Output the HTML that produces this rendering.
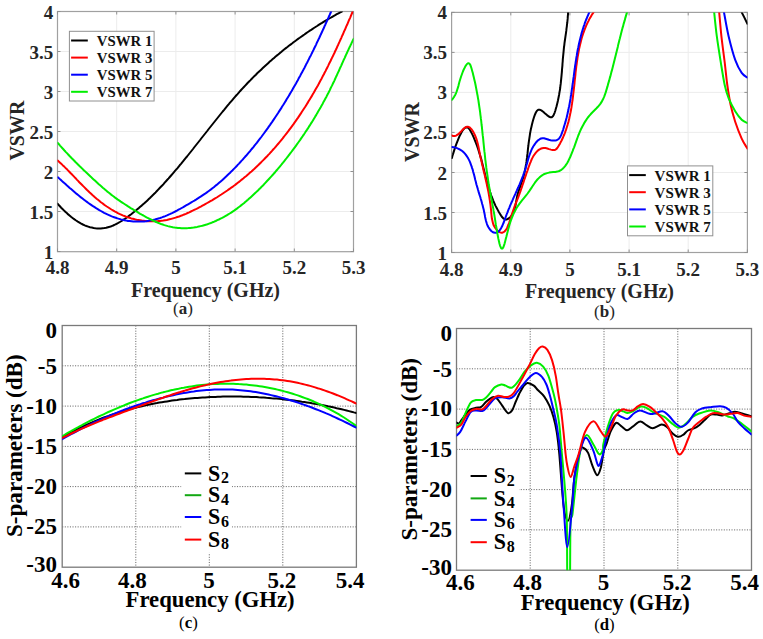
<!DOCTYPE html><html><head><meta charset="utf-8"><style>html,body{margin:0;padding:0;background:#fff;overflow:hidden;}svg{display:block;}</style></head><body>
<svg width="763" height="639" viewBox="0 0 763 639">
<rect width="763" height="639" fill="#fff"/>
<defs>
<clipPath id="ca"><rect x="57.5" y="11.5" width="296" height="240"/></clipPath>
<clipPath id="cb"><rect x="451.6" y="12.4" width="295.8" height="240.1"/></clipPath>
<clipPath id="cc"><rect x="62.2" y="325.5" width="294.2" height="241.9"/></clipPath>
<clipPath id="cd"><rect x="456.5" y="328.5" width="295" height="241.7"/></clipPath>
</defs>
<line x1="116.7" y1="11.5" x2="116.7" y2="251.5" stroke="#ececec" stroke-width="1"/>
<line x1="175.9" y1="11.5" x2="175.9" y2="251.5" stroke="#ececec" stroke-width="1"/>
<line x1="235.1" y1="11.5" x2="235.1" y2="251.5" stroke="#ececec" stroke-width="1"/>
<line x1="294.3" y1="11.5" x2="294.3" y2="251.5" stroke="#ececec" stroke-width="1"/>
<line x1="57.5" y1="211.5" x2="353.5" y2="211.5" stroke="#ececec" stroke-width="1"/>
<line x1="57.5" y1="171.5" x2="353.5" y2="171.5" stroke="#ececec" stroke-width="1"/>
<line x1="57.5" y1="131.5" x2="353.5" y2="131.5" stroke="#ececec" stroke-width="1"/>
<line x1="57.5" y1="91.5" x2="353.5" y2="91.5" stroke="#ececec" stroke-width="1"/>
<line x1="57.5" y1="51.5" x2="353.5" y2="51.5" stroke="#ececec" stroke-width="1"/>
<rect x="57.5" y="11.5" width="296.0" height="240.2" fill="none" stroke="#a0a0a0" stroke-width="1.20"/>
<line x1="57.5" y1="251.5" x2="57.5" y2="248.5" stroke="#909090" stroke-width="1"/>
<line x1="57.5" y1="11.5" x2="57.5" y2="14.5" stroke="#909090" stroke-width="1"/>
<line x1="116.7" y1="251.5" x2="116.7" y2="248.5" stroke="#909090" stroke-width="1"/>
<line x1="116.7" y1="11.5" x2="116.7" y2="14.5" stroke="#909090" stroke-width="1"/>
<line x1="175.9" y1="251.5" x2="175.9" y2="248.5" stroke="#909090" stroke-width="1"/>
<line x1="175.9" y1="11.5" x2="175.9" y2="14.5" stroke="#909090" stroke-width="1"/>
<line x1="235.1" y1="251.5" x2="235.1" y2="248.5" stroke="#909090" stroke-width="1"/>
<line x1="235.1" y1="11.5" x2="235.1" y2="14.5" stroke="#909090" stroke-width="1"/>
<line x1="294.3" y1="251.5" x2="294.3" y2="248.5" stroke="#909090" stroke-width="1"/>
<line x1="294.3" y1="11.5" x2="294.3" y2="14.5" stroke="#909090" stroke-width="1"/>
<line x1="353.5" y1="251.5" x2="353.5" y2="248.5" stroke="#909090" stroke-width="1"/>
<line x1="353.5" y1="11.5" x2="353.5" y2="14.5" stroke="#909090" stroke-width="1"/>
<line x1="57.5" y1="251.5" x2="60.5" y2="251.5" stroke="#909090" stroke-width="1"/>
<line x1="353.5" y1="251.5" x2="350.5" y2="251.5" stroke="#909090" stroke-width="1"/>
<line x1="57.5" y1="211.5" x2="60.5" y2="211.5" stroke="#909090" stroke-width="1"/>
<line x1="353.5" y1="211.5" x2="350.5" y2="211.5" stroke="#909090" stroke-width="1"/>
<line x1="57.5" y1="171.5" x2="60.5" y2="171.5" stroke="#909090" stroke-width="1"/>
<line x1="353.5" y1="171.5" x2="350.5" y2="171.5" stroke="#909090" stroke-width="1"/>
<line x1="57.5" y1="131.5" x2="60.5" y2="131.5" stroke="#909090" stroke-width="1"/>
<line x1="353.5" y1="131.5" x2="350.5" y2="131.5" stroke="#909090" stroke-width="1"/>
<line x1="57.5" y1="91.5" x2="60.5" y2="91.5" stroke="#909090" stroke-width="1"/>
<line x1="353.5" y1="91.5" x2="350.5" y2="91.5" stroke="#909090" stroke-width="1"/>
<line x1="57.5" y1="51.5" x2="60.5" y2="51.5" stroke="#909090" stroke-width="1"/>
<line x1="353.5" y1="51.5" x2="350.5" y2="51.5" stroke="#909090" stroke-width="1"/>
<line x1="57.5" y1="11.5" x2="60.5" y2="11.5" stroke="#909090" stroke-width="1"/>
<line x1="353.5" y1="11.5" x2="350.5" y2="11.5" stroke="#909090" stroke-width="1"/>
<g clip-path="url(#ca)">
<path d="M57.5,203.6 L58.7,205.0 L59.9,206.3 L61.2,207.7 L62.5,209.0 L63.9,210.4 L65.3,211.8 L66.8,213.1 L68.2,214.4 L69.8,215.7 L71.3,217.0 L72.9,218.2 L74.5,219.4 L76.1,220.5 L77.8,221.6 L79.5,222.6 L81.2,223.6 L82.9,224.5 L84.7,225.3 L86.4,226.0 L88.2,226.6 L90.0,227.2 L91.8,227.6 L93.6,228.0 L95.4,228.3 L97.2,228.5 L99.0,228.5 L100.8,228.5 L102.6,228.3 L104.4,228.1 L106.2,227.8 L108.0,227.3 L109.7,226.8 L111.5,226.2 L113.2,225.5 L114.9,224.7 L116.6,223.8 L118.3,222.9 L119.9,222.0 L121.6,221.0 L123.2,219.9 L124.9,218.8 L126.5,217.7 L128.1,216.5 L129.6,215.4 L131.2,214.2 L132.7,213.0 L134.3,211.8 L135.8,210.6 L137.3,209.3 L138.8,208.1 L140.2,206.8 L141.7,205.6 L143.1,204.3 L144.6,203.0 L146.0,201.7 L147.4,200.4 L148.8,199.1 L150.2,197.8 L151.5,196.4 L152.9,195.1 L154.2,193.7 L155.6,192.4 L156.9,191.0 L158.2,189.6 L159.5,188.2 L160.9,186.8 L162.2,185.5 L163.5,184.1 L164.7,182.6 L166.0,181.2 L167.3,179.8 L168.6,178.4 L169.8,177.0 L171.1,175.5 L172.3,174.1 L173.6,172.6 L174.8,171.2 L176.1,169.7 L177.3,168.3 L178.5,166.8 L179.7,165.3 L181.0,163.9 L182.2,162.4 L183.4,160.9 L184.6,159.4 L185.8,157.9 L187.0,156.5 L188.2,155.0 L189.4,153.5 L190.6,152.0 L191.8,150.5 L193.0,149.0 L194.1,147.5 L195.3,146.0 L196.5,144.5 L197.7,143.0 L198.9,141.5 L200.1,140.0 L201.2,138.5 L202.4,137.0 L203.6,135.5 L204.8,134.0 L206.0,132.5 L207.2,131.0 L208.3,129.5 L209.5,128.0 L210.7,126.5 L211.9,125.0 L213.1,123.5 L214.3,122.0 L215.5,120.5 L216.7,119.0 L217.9,117.5 L219.1,116.0 L220.3,114.5 L221.5,113.0 L222.7,111.5 L223.9,110.1 L225.1,108.6 L226.3,107.1 L227.5,105.7 L228.8,104.2 L230.0,102.7 L231.2,101.3 L232.5,99.8 L233.7,98.4 L235.0,96.9 L236.2,95.5 L237.5,94.1 L238.8,92.6 L240.0,91.2 L241.3,89.8 L242.6,88.4 L243.9,87.0 L245.2,85.6 L246.5,84.2 L247.8,82.8 L249.1,81.5 L250.5,80.1 L251.8,78.7 L253.1,77.4 L254.5,76.0 L255.9,74.7 L257.2,73.3 L258.6,72.0 L260.0,70.7 L261.4,69.4 L262.8,68.1 L264.2,66.8 L265.6,65.5 L267.0,64.2 L268.4,62.9 L269.8,61.6 L271.2,60.4 L272.7,59.1 L274.1,57.9 L275.6,56.6 L277.0,55.4 L278.5,54.2 L280.0,52.9 L281.5,51.7 L282.9,50.5 L284.4,49.3 L285.9,48.1 L287.4,47.0 L288.9,45.8 L290.5,44.6 L292.0,43.5 L293.5,42.3 L295.0,41.2 L296.6,40.0 L298.1,38.9 L299.7,37.8 L301.2,36.7 L302.8,35.6 L304.4,34.5 L305.9,33.4 L307.5,32.3 L309.1,31.2 L310.7,30.2 L312.3,29.1 L313.9,28.0 L315.5,27.0 L317.1,26.0 L318.7,24.9 L320.3,23.9 L322.0,22.9 L323.6,21.9 L325.2,20.9 L326.9,20.0 L328.5,19.0 L330.2,18.0 L331.8,17.1 L333.5,16.1 L335.2,15.2 L336.8,14.2 L338.5,13.3 L340.2,12.4 L341.9,11.5" fill="none" stroke="#000000" stroke-width="2.00" stroke-linejoin="round" stroke-linecap="round"/>
<path d="M57.7,160.5 L59.0,161.7 L60.3,162.9 L61.6,164.1 L62.9,165.4 L64.2,166.6 L65.5,167.9 L66.8,169.1 L68.0,170.4 L69.3,171.7 L70.5,173.0 L71.8,174.3 L73.1,175.6 L74.3,176.9 L75.6,178.2 L76.8,179.6 L78.1,180.9 L79.3,182.2 L80.6,183.5 L81.9,184.8 L83.2,186.1 L84.5,187.4 L85.8,188.7 L87.1,190.0 L88.4,191.2 L89.7,192.5 L91.1,193.8 L92.4,195.0 L93.8,196.2 L95.2,197.5 L96.6,198.7 L98.0,199.8 L99.5,201.0 L100.9,202.2 L102.4,203.3 L103.8,204.4 L105.3,205.5 L106.8,206.5 L108.4,207.5 L109.9,208.5 L111.4,209.5 L113.0,210.4 L114.6,211.4 L116.2,212.2 L117.8,213.1 L119.4,213.9 L121.1,214.6 L122.7,215.4 L124.4,216.0 L126.1,216.7 L127.8,217.3 L129.5,217.8 L131.2,218.4 L133.0,218.8 L134.7,219.3 L136.5,219.7 L138.2,220.0 L140.0,220.3 L141.8,220.6 L143.6,220.8 L145.4,221.0 L147.2,221.2 L148.9,221.3 L150.7,221.3 L152.5,221.3 L154.3,221.3 L156.1,221.2 L157.9,221.1 L159.7,220.9 L161.5,220.7 L163.3,220.5 L165.1,220.2 L166.8,219.9 L168.6,219.5 L170.4,219.1 L172.1,218.6 L173.9,218.1 L175.6,217.6 L177.3,217.0 L179.1,216.5 L180.8,215.8 L182.5,215.2 L184.2,214.5 L185.9,213.8 L187.6,213.0 L189.2,212.3 L190.9,211.5 L192.6,210.7 L194.2,209.9 L195.9,209.1 L197.5,208.3 L199.2,207.4 L200.8,206.6 L202.4,205.7 L204.0,204.8 L205.6,203.9 L207.2,203.0 L208.8,202.1 L210.4,201.2 L212.0,200.3 L213.5,199.4 L215.1,198.4 L216.7,197.5 L218.2,196.5 L219.7,195.5 L221.3,194.5 L222.8,193.5 L224.3,192.5 L225.8,191.5 L227.3,190.5 L228.8,189.4 L230.3,188.4 L231.7,187.3 L233.2,186.3 L234.7,185.2 L236.1,184.1 L237.5,183.0 L239.0,181.9 L240.4,180.8 L241.8,179.6 L243.2,178.5 L244.6,177.3 L246.0,176.2 L247.4,175.0 L248.8,173.8 L250.1,172.6 L251.5,171.4 L252.8,170.2 L254.2,169.0 L255.5,167.7 L256.8,166.5 L258.1,165.3 L259.4,164.0 L260.7,162.7 L262.0,161.4 L263.3,160.1 L264.6,158.8 L265.8,157.5 L267.1,156.2 L268.3,154.9 L269.6,153.6 L270.8,152.2 L272.0,150.9 L273.2,149.5 L274.5,148.1 L275.6,146.8 L276.8,145.4 L278.0,144.0 L279.2,142.6 L280.4,141.2 L281.5,139.8 L282.7,138.4 L283.8,136.9 L284.9,135.5 L286.0,134.1 L287.2,132.6 L288.3,131.2 L289.4,129.7 L290.4,128.3 L291.5,126.8 L292.6,125.3 L293.7,123.9 L294.7,122.4 L295.8,120.9 L296.8,119.4 L297.9,117.9 L298.9,116.4 L299.9,114.9 L300.9,113.4 L301.9,111.8 L302.9,110.3 L303.9,108.8 L304.9,107.3 L305.9,105.7 L306.8,104.2 L307.8,102.6 L308.7,101.1 L309.7,99.5 L310.6,98.0 L311.6,96.4 L312.5,94.8 L313.4,93.3 L314.3,91.7 L315.2,90.1 L316.1,88.5 L317.0,86.9 L317.9,85.4 L318.8,83.8 L319.6,82.2 L320.5,80.6 L321.4,79.0 L322.2,77.4 L323.0,75.8 L323.9,74.2 L324.7,72.5 L325.6,70.9 L326.4,69.3 L327.2,67.7 L328.0,66.1 L328.8,64.4 L329.6,62.8 L330.4,61.2 L331.2,59.5 L332.0,57.9 L332.8,56.3 L333.6,54.6 L334.4,53.0 L335.1,51.3 L335.9,49.7 L336.7,48.0 L337.4,46.4 L338.2,44.7 L338.9,43.1 L339.7,41.4 L340.4,39.8 L341.2,38.1 L341.9,36.4 L342.7,34.8 L343.4,33.1 L344.1,31.4 L344.9,29.8 L345.6,28.1 L346.3,26.4 L347.1,24.8 L347.8,23.1 L348.5,21.4 L349.2,19.7 L350.0,18.1 L350.7,16.4 L351.4,14.7 L352.1,13.0 L352.8,11.4" fill="none" stroke="#ff0000" stroke-width="2.00" stroke-linejoin="round" stroke-linecap="round"/>
<path d="M57.9,177.3 L59.2,178.4 L60.4,179.6 L61.7,180.8 L63.0,181.9 L64.3,183.1 L65.7,184.3 L67.0,185.5 L68.4,186.7 L69.7,187.9 L71.1,189.1 L72.5,190.3 L73.9,191.5 L75.3,192.7 L76.7,193.9 L78.1,195.0 L79.6,196.2 L81.0,197.4 L82.5,198.5 L84.0,199.7 L85.4,200.8 L86.9,201.9 L88.4,203.0 L90.0,204.1 L91.5,205.1 L93.0,206.2 L94.6,207.2 L96.1,208.2 L97.7,209.1 L99.3,210.1 L100.9,211.0 L102.5,211.9 L104.1,212.8 L105.8,213.6 L107.4,214.4 L109.0,215.1 L110.7,215.9 L112.4,216.6 L114.1,217.2 L115.8,217.8 L117.5,218.4 L119.2,218.9 L120.9,219.4 L122.7,219.8 L124.4,220.2 L126.2,220.6 L127.9,220.9 L129.7,221.1 L131.5,221.3 L133.3,221.5 L135.1,221.6 L136.9,221.6 L138.7,221.6 L140.6,221.6 L142.4,221.5 L144.2,221.4 L146.0,221.2 L147.8,220.9 L149.6,220.6 L151.4,220.3 L153.2,219.9 L154.9,219.5 L156.7,219.0 L158.4,218.5 L160.2,218.0 L161.9,217.4 L163.6,216.7 L165.3,216.1 L167.0,215.4 L168.6,214.6 L170.3,213.9 L172.0,213.1 L173.6,212.3 L175.2,211.5 L176.9,210.6 L178.5,209.7 L180.1,208.9 L181.7,208.0 L183.3,207.1 L184.9,206.1 L186.5,205.2 L188.1,204.3 L189.7,203.4 L191.3,202.4 L192.8,201.5 L194.4,200.6 L196.0,199.6 L197.5,198.6 L199.0,197.7 L200.6,196.7 L202.1,195.7 L203.6,194.7 L205.1,193.7 L206.6,192.6 L208.1,191.5 L209.5,190.5 L211.0,189.4 L212.4,188.3 L213.8,187.2 L215.2,186.0 L216.6,184.9 L218.0,183.7 L219.4,182.5 L220.7,181.4 L222.1,180.2 L223.5,178.9 L224.8,177.7 L226.1,176.5 L227.4,175.2 L228.7,174.0 L230.1,172.7 L231.3,171.4 L232.6,170.2 L233.9,168.9 L235.2,167.6 L236.5,166.3 L237.7,164.9 L239.0,163.6 L240.2,162.3 L241.4,160.9 L242.7,159.6 L243.9,158.2 L245.1,156.8 L246.3,155.5 L247.5,154.1 L248.7,152.7 L249.9,151.3 L251.0,149.9 L252.2,148.5 L253.4,147.1 L254.5,145.6 L255.7,144.2 L256.8,142.8 L257.9,141.3 L259.0,139.9 L260.2,138.4 L261.3,137.0 L262.4,135.5 L263.5,134.0 L264.6,132.5 L265.6,131.1 L266.7,129.6 L267.8,128.1 L268.8,126.6 L269.9,125.1 L270.9,123.6 L272.0,122.1 L273.0,120.6 L274.0,119.1 L275.1,117.5 L276.1,116.0 L277.1,114.5 L278.1,113.0 L279.1,111.4 L280.1,109.9 L281.1,108.4 L282.0,106.8 L283.0,105.3 L284.0,103.7 L284.9,102.2 L285.9,100.6 L286.8,99.1 L287.8,97.5 L288.7,96.0 L289.6,94.4 L290.6,92.8 L291.5,91.3 L292.4,89.7 L293.3,88.1 L294.2,86.5 L295.1,84.9 L296.0,83.4 L296.9,81.8 L297.8,80.2 L298.6,78.6 L299.5,77.0 L300.4,75.4 L301.2,73.8 L302.1,72.2 L303.0,70.6 L303.8,69.0 L304.7,67.4 L305.5,65.7 L306.3,64.1 L307.2,62.5 L308.0,60.9 L308.8,59.3 L309.6,57.6 L310.5,56.0 L311.3,54.4 L312.1,52.7 L312.9,51.1 L313.7,49.5 L314.5,47.8 L315.3,46.2 L316.1,44.6 L316.8,42.9 L317.6,41.3 L318.4,39.6 L319.2,38.0 L320.0,36.3 L320.7,34.7 L321.5,33.0 L322.3,31.3 L323.0,29.7 L323.8,28.0 L324.5,26.3 L325.3,24.7 L326.0,23.0 L326.8,21.3 L327.5,19.7 L328.3,18.0 L329.0,16.3 L329.8,14.7 L330.5,13.0 L331.2,11.3" fill="none" stroke="#0000ff" stroke-width="2.00" stroke-linejoin="round" stroke-linecap="round"/>
<path d="M57.7,142.9 L58.9,144.2 L60.0,145.6 L61.2,146.9 L62.4,148.2 L63.6,149.5 L64.7,150.8 L65.9,152.1 L67.2,153.4 L68.4,154.7 L69.6,156.0 L70.8,157.2 L72.0,158.5 L73.3,159.8 L74.5,161.0 L75.7,162.3 L77.0,163.5 L78.2,164.7 L79.5,166.0 L80.8,167.2 L82.0,168.4 L83.3,169.7 L84.6,170.9 L85.8,172.1 L87.1,173.3 L88.4,174.5 L89.7,175.7 L91.0,176.9 L92.3,178.2 L93.6,179.4 L94.9,180.6 L96.2,181.8 L97.5,183.0 L98.8,184.2 L100.1,185.3 L101.5,186.5 L102.8,187.7 L104.1,188.8 L105.5,190.0 L106.8,191.1 L108.2,192.2 L109.6,193.3 L110.9,194.4 L112.3,195.5 L113.7,196.5 L115.1,197.6 L116.5,198.6 L117.9,199.6 L119.4,200.6 L120.8,201.6 L122.3,202.6 L123.7,203.5 L125.2,204.5 L126.6,205.4 L128.1,206.4 L129.6,207.3 L131.1,208.3 L132.6,209.2 L134.1,210.1 L135.6,211.0 L137.2,211.9 L138.7,212.9 L140.2,213.8 L141.8,214.7 L143.4,215.5 L144.9,216.4 L146.5,217.3 L148.1,218.1 L149.7,218.9 L151.3,219.7 L152.9,220.5 L154.5,221.2 L156.1,222.0 L157.8,222.7 L159.4,223.3 L161.1,224.0 L162.7,224.5 L164.4,225.1 L166.1,225.6 L167.8,226.1 L169.4,226.5 L171.1,226.9 L172.8,227.3 L174.6,227.6 L176.3,227.8 L178.0,228.0 L179.7,228.1 L181.5,228.2 L183.2,228.3 L185.0,228.3 L186.7,228.2 L188.4,228.1 L190.2,227.9 L191.9,227.7 L193.7,227.5 L195.4,227.2 L197.2,226.9 L198.9,226.5 L200.6,226.1 L202.4,225.7 L204.1,225.2 L205.8,224.7 L207.5,224.2 L209.1,223.6 L210.8,223.0 L212.5,222.3 L214.1,221.7 L215.7,221.0 L217.3,220.2 L218.9,219.5 L220.5,218.7 L222.1,217.9 L223.6,217.1 L225.2,216.2 L226.7,215.3 L228.2,214.4 L229.7,213.5 L231.2,212.6 L232.6,211.6 L234.1,210.6 L235.5,209.6 L236.9,208.6 L238.3,207.5 L239.7,206.5 L241.1,205.4 L242.5,204.3 L243.9,203.2 L245.2,202.0 L246.5,200.9 L247.9,199.8 L249.2,198.6 L250.5,197.4 L251.8,196.2 L253.1,195.0 L254.4,193.8 L255.7,192.6 L256.9,191.4 L258.2,190.2 L259.4,188.9 L260.7,187.7 L261.9,186.4 L263.2,185.2 L264.4,183.9 L265.6,182.6 L266.8,181.3 L268.0,180.0 L269.2,178.7 L270.4,177.4 L271.6,176.1 L272.8,174.8 L273.9,173.5 L275.1,172.2 L276.2,170.8 L277.4,169.5 L278.5,168.1 L279.6,166.8 L280.8,165.4 L281.9,164.0 L283.0,162.7 L284.1,161.3 L285.2,159.9 L286.3,158.5 L287.4,157.1 L288.5,155.7 L289.5,154.3 L290.6,152.9 L291.7,151.5 L292.7,150.1 L293.8,148.7 L294.8,147.3 L295.9,145.8 L296.9,144.4 L297.9,143.0 L299.0,141.5 L300.0,140.1 L301.0,138.6 L302.0,137.2 L303.0,135.7 L304.0,134.3 L305.0,132.8 L305.9,131.3 L306.9,129.9 L307.9,128.4 L308.8,126.9 L309.8,125.4 L310.7,123.9 L311.7,122.4 L312.6,120.9 L313.5,119.4 L314.4,117.9 L315.3,116.4 L316.3,114.9 L317.1,113.4 L318.0,111.8 L318.9,110.3 L319.8,108.8 L320.7,107.2 L321.5,105.7 L322.4,104.2 L323.2,102.6 L324.1,101.1 L324.9,99.5 L325.7,98.0 L326.6,96.4 L327.4,94.8 L328.2,93.3 L329.0,91.7 L329.8,90.1 L330.5,88.5 L331.3,86.9 L332.1,85.4 L332.8,83.8 L333.6,82.2 L334.4,80.6 L335.1,79.0 L335.8,77.4 L336.6,75.8 L337.3,74.2 L338.0,72.6 L338.8,71.0 L339.5,69.3 L340.2,67.7 L341.0,66.1 L341.7,64.5 L342.4,62.9 L343.1,61.3 L343.8,59.7 L344.6,58.1 L345.3,56.5 L346.0,54.9 L346.8,53.3 L347.5,51.6 L348.3,50.0 L349.0,48.4 L349.8,46.8 L350.5,45.3 L351.3,43.7 L352.0,42.1 L352.8,40.5 L353.6,38.9" fill="none" stroke="#00ee00" stroke-width="2.00" stroke-linejoin="round" stroke-linecap="round"/>
</g>
<g font-family="Liberation Serif" font-weight="bold" font-size="19" fill="#262626">
<text x="53.3" y="258.5" text-anchor="end">1</text>
<text x="53.3" y="218.5" text-anchor="end">1.5</text>
<text x="53.3" y="178.5" text-anchor="end">2</text>
<text x="53.3" y="138.5" text-anchor="end">2.5</text>
<text x="53.3" y="98.5" text-anchor="end">3</text>
<text x="53.3" y="58.5" text-anchor="end">3.5</text>
<text x="53.3" y="18.5" text-anchor="end">4</text>
<text x="57.5" y="274" text-anchor="middle">4.8</text>
<text x="116.7" y="274" text-anchor="middle">4.9</text>
<text x="175.9" y="274" text-anchor="middle">5</text>
<text x="235.1" y="274" text-anchor="middle">5.1</text>
<text x="294.3" y="274" text-anchor="middle">5.2</text>
<text x="353.5" y="274" text-anchor="middle">5.3</text>
</g>
<text font-family="Liberation Serif" font-weight="bold" font-size="20" fill="#262626" x="205.5" y="296.7" text-anchor="middle">Frequency (GHz)</text>
<text font-family="Liberation Serif" font-weight="bold" font-size="20" fill="#262626" transform="translate(24.4,130.6) rotate(-90)" text-anchor="middle">VSWR</text>
<rect x="69.4" y="31.3" width="84.7" height="69.7" fill="#fff" stroke="#909090" stroke-width="1"/>
<line x1="71.1" y1="40.5" x2="87.8" y2="40.5" stroke="#000000" stroke-width="2"/>
<text font-family="Liberation Serif" font-weight="bold" font-size="14.8" fill="#111" x="96.8" y="46.1">VSWR 1</text>
<line x1="71.1" y1="57.6" x2="87.8" y2="57.6" stroke="#ff0000" stroke-width="2"/>
<text font-family="Liberation Serif" font-weight="bold" font-size="14.8" fill="#111" x="96.8" y="63.2">VSWR 3</text>
<line x1="71.1" y1="74.7" x2="87.8" y2="74.7" stroke="#0000ff" stroke-width="2"/>
<text font-family="Liberation Serif" font-weight="bold" font-size="14.8" fill="#111" x="96.8" y="80.3">VSWR 5</text>
<line x1="71.1" y1="91.8" x2="87.8" y2="91.8" stroke="#00ee00" stroke-width="2"/>
<text font-family="Liberation Serif" font-weight="bold" font-size="14.8" fill="#111" x="96.8" y="97.4">VSWR 7</text>
<text font-family="Liberation Serif" font-size="17" fill="#262626" x="183" y="314.2" text-anchor="middle">(<tspan font-weight="bold">a</tspan>)</text>
<line x1="510.8" y1="12.4" x2="510.8" y2="252.5" stroke="#ececec" stroke-width="1"/>
<line x1="569.9" y1="12.4" x2="569.9" y2="252.5" stroke="#ececec" stroke-width="1"/>
<line x1="629.1" y1="12.4" x2="629.1" y2="252.5" stroke="#ececec" stroke-width="1"/>
<line x1="688.2" y1="12.4" x2="688.2" y2="252.5" stroke="#ececec" stroke-width="1"/>
<line x1="451.6" y1="212.5" x2="747.4" y2="212.5" stroke="#ececec" stroke-width="1"/>
<line x1="451.6" y1="172.5" x2="747.4" y2="172.5" stroke="#ececec" stroke-width="1"/>
<line x1="451.6" y1="132.4" x2="747.4" y2="132.4" stroke="#ececec" stroke-width="1"/>
<line x1="451.6" y1="92.4" x2="747.4" y2="92.4" stroke="#ececec" stroke-width="1"/>
<line x1="451.6" y1="52.4" x2="747.4" y2="52.4" stroke="#ececec" stroke-width="1"/>
<rect x="451.6" y="12.4" width="295.8" height="240.1" fill="none" stroke="#a0a0a0" stroke-width="1.20"/>
<line x1="451.6" y1="252.5" x2="451.6" y2="249.5" stroke="#909090" stroke-width="1"/>
<line x1="451.6" y1="12.4" x2="451.6" y2="15.4" stroke="#909090" stroke-width="1"/>
<line x1="510.8" y1="252.5" x2="510.8" y2="249.5" stroke="#909090" stroke-width="1"/>
<line x1="510.8" y1="12.4" x2="510.8" y2="15.4" stroke="#909090" stroke-width="1"/>
<line x1="569.9" y1="252.5" x2="569.9" y2="249.5" stroke="#909090" stroke-width="1"/>
<line x1="569.9" y1="12.4" x2="569.9" y2="15.4" stroke="#909090" stroke-width="1"/>
<line x1="629.1" y1="252.5" x2="629.1" y2="249.5" stroke="#909090" stroke-width="1"/>
<line x1="629.1" y1="12.4" x2="629.1" y2="15.4" stroke="#909090" stroke-width="1"/>
<line x1="688.2" y1="252.5" x2="688.2" y2="249.5" stroke="#909090" stroke-width="1"/>
<line x1="688.2" y1="12.4" x2="688.2" y2="15.4" stroke="#909090" stroke-width="1"/>
<line x1="747.4" y1="252.5" x2="747.4" y2="249.5" stroke="#909090" stroke-width="1"/>
<line x1="747.4" y1="12.4" x2="747.4" y2="15.4" stroke="#909090" stroke-width="1"/>
<line x1="451.6" y1="252.5" x2="454.6" y2="252.5" stroke="#909090" stroke-width="1"/>
<line x1="747.4" y1="252.5" x2="744.4" y2="252.5" stroke="#909090" stroke-width="1"/>
<line x1="451.6" y1="212.5" x2="454.6" y2="212.5" stroke="#909090" stroke-width="1"/>
<line x1="747.4" y1="212.5" x2="744.4" y2="212.5" stroke="#909090" stroke-width="1"/>
<line x1="451.6" y1="172.5" x2="454.6" y2="172.5" stroke="#909090" stroke-width="1"/>
<line x1="747.4" y1="172.5" x2="744.4" y2="172.5" stroke="#909090" stroke-width="1"/>
<line x1="451.6" y1="132.4" x2="454.6" y2="132.4" stroke="#909090" stroke-width="1"/>
<line x1="747.4" y1="132.4" x2="744.4" y2="132.4" stroke="#909090" stroke-width="1"/>
<line x1="451.6" y1="92.4" x2="454.6" y2="92.4" stroke="#909090" stroke-width="1"/>
<line x1="747.4" y1="92.4" x2="744.4" y2="92.4" stroke="#909090" stroke-width="1"/>
<line x1="451.6" y1="52.4" x2="454.6" y2="52.4" stroke="#909090" stroke-width="1"/>
<line x1="747.4" y1="52.4" x2="744.4" y2="52.4" stroke="#909090" stroke-width="1"/>
<line x1="451.6" y1="12.4" x2="454.6" y2="12.4" stroke="#909090" stroke-width="1"/>
<line x1="747.4" y1="12.4" x2="744.4" y2="12.4" stroke="#909090" stroke-width="1"/>
<g clip-path="url(#cb)">
<path d="M451.8,158.0 L451.8,158.0 L452.1,157.3 L452.4,156.0 L453.0,154.2 L453.7,151.9 L454.5,149.4 L455.4,146.6 L456.5,143.7 L457.6,140.8 L458.8,137.9 L460.0,135.2 L461.3,132.8 L462.5,130.6 L463.8,128.9 L465.1,127.8 L466.3,127.2 L467.5,127.4 L468.7,128.3 L469.8,129.7 L470.8,131.5 L471.8,133.4 L472.8,135.4 L473.7,137.4 L474.5,139.3 L475.3,141.3 L476.1,143.3 L476.8,145.2 L477.5,147.2 L478.2,149.2 L478.8,151.2 L479.4,153.2 L480.0,155.1 L480.6,157.1 L481.2,159.1 L481.7,161.1 L482.2,163.1 L482.7,165.1 L483.2,167.1 L483.7,169.0 L484.2,171.0 L484.7,173.0 L485.2,175.0 L485.7,177.0 L486.2,178.9 L486.7,180.9 L487.3,182.9 L487.8,184.8 L488.4,186.8 L489.0,188.8 L489.6,190.7 L490.3,192.6 L490.9,194.6 L491.6,196.5 L492.4,198.4 L493.1,200.3 L493.9,202.3 L494.8,204.2 L495.7,206.1 L496.7,208.0 L497.7,209.9 L498.7,211.8 L499.9,213.7 L501.1,215.6 L502.3,217.3 L503.7,218.7 L505.2,219.4 L506.9,219.4 L508.6,218.5 L510.2,217.2 L511.6,215.7 L512.7,214.0 L513.6,212.2 L514.3,210.2 L514.9,208.2 L515.4,206.1 L515.7,204.0 L516.1,201.9 L516.5,199.7 L516.9,197.6 L517.3,195.5 L517.9,193.4 L518.5,191.4 L519.2,189.4 L519.9,187.4 L520.6,185.4 L521.3,183.4 L522.0,181.5 L522.6,179.5 L523.2,177.6 L523.8,175.6 L524.3,173.6 L524.7,171.6 L525.1,169.7 L525.5,167.7 L525.8,165.7 L526.2,163.7 L526.5,161.7 L526.7,159.7 L527.0,157.7 L527.2,155.7 L527.5,153.7 L527.7,151.6 L527.9,149.6 L528.1,147.6 L528.4,145.5 L528.6,143.5 L528.9,141.4 L529.2,139.4 L529.5,137.3 L529.8,135.3 L530.1,133.2 L530.5,131.1 L530.9,129.0 L531.4,126.9 L531.9,124.8 L532.4,122.7 L533.0,120.6 L533.6,118.5 L534.3,116.3 L535.1,114.2 L536.0,112.3 L537.0,110.7 L538.2,109.8 L539.6,109.7 L541.3,110.4 L543.2,111.8 L545.1,113.5 L547.0,115.1 L548.8,116.5 L550.5,117.3 L551.8,117.2 L552.9,116.3 L553.8,114.7 L554.6,112.8 L555.3,110.7 L555.9,108.6 L556.5,106.5 L557.0,104.5 L557.5,102.4 L558.0,100.3 L558.4,98.3 L558.8,96.2 L559.2,94.2 L559.5,92.1 L559.9,90.1 L560.2,88.0 L560.4,86.0 L560.7,83.9 L560.9,81.9 L561.1,79.8 L561.3,77.8 L561.5,75.8 L561.7,73.7 L561.9,71.7 L562.0,69.6 L562.2,67.6 L562.4,65.6 L562.5,63.5 L562.7,61.5 L562.8,59.4 L563.0,57.4 L563.2,55.4 L563.4,53.3 L563.6,51.3 L563.8,49.2 L564.0,47.2 L564.3,45.1 L564.5,43.1 L564.8,41.0 L565.1,39.0 L565.4,36.9 L565.7,34.8 L566.0,32.8 L566.3,30.7 L566.5,28.7 L566.8,26.6 L567.0,24.6 L567.3,22.5 L567.5,20.5 L567.7,18.4 L567.8,16.4 L568.0,14.3 L568.1,12.3" fill="none" stroke="#000000" stroke-width="2.00" stroke-linejoin="round" stroke-linecap="round"/>
<path d="M451.7,135.4 L453.2,136.1 L454.7,136.1 L456.1,135.6 L457.5,134.7 L458.9,133.6 L460.3,132.2 L461.6,130.9 L462.9,129.5 L464.2,128.3 L465.4,127.4 L466.6,126.8 L467.9,126.7 L469.1,127.1 L470.2,127.9 L471.4,129.1 L472.4,130.5 L473.4,132.1 L474.2,133.7 L475.0,135.3 L475.7,137.0 L476.3,138.6 L476.8,140.3 L477.3,141.9 L477.7,143.6 L478.1,145.3 L478.5,147.0 L478.8,148.6 L479.1,150.3 L479.5,151.9 L479.8,153.6 L480.1,155.2 L480.5,156.9 L480.8,158.5 L481.2,160.1 L481.6,161.7 L481.9,163.4 L482.3,165.0 L482.7,166.6 L483.1,168.2 L483.4,169.8 L483.8,171.4 L484.2,173.0 L484.6,174.6 L485.0,176.2 L485.3,177.8 L485.7,179.4 L486.1,181.0 L486.4,182.6 L486.8,184.2 L487.1,185.9 L487.5,187.5 L487.8,189.1 L488.2,190.8 L488.5,192.4 L488.8,194.1 L489.1,195.8 L489.4,197.5 L489.6,199.2 L489.9,200.9 L490.1,202.6 L490.4,204.3 L490.6,206.1 L490.8,207.9 L491.0,209.6 L491.2,211.4 L491.3,213.2 L491.5,215.0 L491.7,216.8 L491.9,218.6 L492.3,220.3 L492.7,222.0 L493.1,223.7 L493.7,225.3 L494.5,226.8 L495.4,228.2 L496.4,229.5 L497.6,230.7 L498.9,231.7 L500.1,232.4 L501.4,232.7 L502.5,232.7 L503.5,232.2 L504.5,231.5 L505.4,230.5 L506.3,229.3 L507.1,227.9 L507.8,226.2 L508.5,224.5 L509.2,222.6 L509.8,220.7 L510.5,218.7 L511.1,216.8 L511.7,214.9 L512.3,213.0 L512.9,211.2 L513.5,209.5 L514.1,207.9 L514.7,206.2 L515.3,204.7 L515.9,203.2 L516.5,201.6 L517.1,200.2 L517.7,198.7 L518.3,197.2 L518.8,195.7 L519.4,194.2 L519.9,192.6 L520.5,191.1 L521.0,189.5 L521.6,188.0 L522.1,186.4 L522.6,184.8 L523.2,183.2 L523.7,181.6 L524.2,180.0 L524.8,178.4 L525.3,176.8 L525.9,175.1 L526.4,173.5 L527.0,171.9 L527.6,170.3 L528.1,168.6 L528.7,167.0 L529.3,165.4 L529.9,163.7 L530.6,162.1 L531.2,160.5 L531.9,158.9 L532.7,157.4 L533.5,155.9 L534.5,154.5 L535.5,153.1 L536.6,151.8 L537.8,150.6 L539.1,149.6 L540.6,148.8 L542.1,148.3 L543.7,148.0 L545.5,148.1 L547.3,148.5 L549.1,149.1 L550.9,149.6 L552.5,150.0 L554.1,150.1 L555.4,149.7 L556.6,148.9 L557.5,147.7 L558.4,146.3 L559.3,144.8 L560.1,143.4 L560.8,141.9 L561.6,140.5 L562.3,139.0 L563.0,137.5 L563.6,136.0 L564.3,134.5 L564.9,133.0 L565.4,131.4 L566.0,129.9 L566.5,128.3 L567.0,126.7 L567.5,125.1 L567.9,123.6 L568.4,122.0 L568.8,120.3 L569.2,118.7 L569.5,117.1 L569.9,115.5 L570.2,113.8 L570.6,112.2 L570.9,110.5 L571.2,108.9 L571.5,107.2 L571.7,105.5 L572.0,103.9 L572.2,102.2 L572.5,100.5 L572.7,98.8 L572.9,97.1 L573.1,95.4 L573.3,93.7 L573.5,92.0 L573.7,90.3 L573.9,88.6 L574.1,86.9 L574.3,85.2 L574.5,83.5 L574.6,81.8 L574.8,80.0 L575.0,78.3 L575.2,76.6 L575.4,74.9 L575.5,73.2 L575.7,71.5 L575.9,69.8 L576.1,68.1 L576.3,66.4 L576.6,64.7 L576.8,63.0 L577.0,61.3 L577.3,59.6 L577.5,57.9 L577.8,56.2 L578.1,54.5 L578.4,52.9 L578.7,51.2 L579.0,49.5 L579.3,47.9 L579.7,46.2 L580.1,44.6 L580.5,43.0 L580.9,41.3 L581.3,39.7 L581.7,38.1 L582.2,36.5 L582.7,34.9 L583.2,33.4 L583.8,31.8 L584.4,30.2 L585.0,28.7 L585.6,27.1 L586.2,25.6 L586.9,24.1 L587.6,22.6 L588.4,21.1 L589.1,19.6 L589.9,18.1 L590.8,16.7 L591.6,15.2 L592.5,13.8 L593.5,12.4" fill="none" stroke="#ff0000" stroke-width="2.00" stroke-linejoin="round" stroke-linecap="round"/>
<path d="M451.8,147.0 L453.7,147.2 L455.4,147.6 L457.0,148.1 L458.5,148.8 L459.9,149.5 L461.2,150.3 L462.5,151.3 L463.6,152.3 L464.7,153.4 L465.7,154.6 L466.6,155.9 L467.5,157.2 L468.3,158.6 L469.1,160.1 L469.8,161.6 L470.4,163.2 L471.0,164.8 L471.6,166.4 L472.1,168.1 L472.7,169.7 L473.1,171.4 L473.6,173.2 L474.1,174.9 L474.5,176.6 L474.9,178.3 L475.3,180.0 L475.8,181.7 L476.2,183.4 L476.6,185.0 L477.1,186.6 L477.6,188.2 L478.0,189.8 L478.5,191.4 L478.9,192.9 L479.4,194.4 L479.9,196.0 L480.4,197.5 L480.8,199.0 L481.3,200.6 L481.7,202.1 L482.1,203.7 L482.6,205.3 L483.0,206.9 L483.4,208.5 L483.8,210.1 L484.1,211.8 L484.5,213.5 L484.8,215.2 L485.1,217.0 L485.5,218.7 L485.9,220.5 L486.4,222.2 L486.9,223.8 L487.5,225.5 L488.3,227.0 L489.2,228.4 L490.2,229.8 L491.3,231.0 L492.6,232.0 L493.8,232.6 L495.1,232.8 L496.4,232.7 L497.6,232.2 L498.6,231.4 L499.6,230.4 L500.5,229.2 L501.3,227.8 L502.1,226.3 L502.8,224.7 L503.5,223.0 L504.2,221.2 L504.8,219.4 L505.5,217.5 L506.1,215.8 L506.8,214.0 L507.5,212.3 L508.1,210.6 L508.8,208.9 L509.5,207.3 L510.1,205.7 L510.8,204.1 L511.5,202.5 L512.2,201.0 L512.9,199.4 L513.5,197.9 L514.2,196.4 L514.9,194.9 L515.6,193.4 L516.2,191.9 L516.9,190.4 L517.5,189.0 L518.2,187.5 L518.8,186.0 L519.5,184.6 L520.1,183.1 L520.7,181.6 L521.3,180.1 L521.9,178.6 L522.5,177.1 L523.1,175.6 L523.6,174.1 L524.2,172.5 L524.7,171.0 L525.2,169.4 L525.7,167.8 L526.2,166.1 L526.7,164.5 L527.2,162.8 L527.6,161.2 L528.1,159.5 L528.6,157.8 L529.1,156.2 L529.7,154.5 L530.3,152.9 L530.9,151.3 L531.6,149.7 L532.3,148.2 L533.1,146.7 L534.0,145.3 L535.0,143.9 L536.0,142.5 L537.1,141.3 L538.4,140.1 L539.7,139.2 L541.0,138.5 L542.5,138.2 L544.0,138.3 L545.6,138.7 L547.3,139.2 L548.9,139.8 L550.6,140.2 L552.2,140.5 L553.7,140.6 L555.2,140.5 L556.6,140.2 L557.8,139.6 L558.9,138.7 L559.8,137.6 L560.6,136.2 L561.3,134.7 L561.9,133.1 L562.5,131.4 L563.1,129.8 L563.6,128.1 L564.1,126.4 L564.6,124.8 L565.1,123.1 L565.6,121.4 L566.0,119.8 L566.5,118.1 L566.9,116.4 L567.3,114.8 L567.7,113.1 L568.0,111.5 L568.4,109.8 L568.7,108.1 L569.1,106.5 L569.4,104.8 L569.7,103.2 L570.0,101.5 L570.3,99.8 L570.6,98.2 L570.8,96.5 L571.1,94.9 L571.3,93.2 L571.6,91.6 L571.8,89.9 L572.1,88.3 L572.3,86.6 L572.5,84.9 L572.8,83.3 L573.0,81.6 L573.2,80.0 L573.4,78.4 L573.7,76.7 L573.9,75.1 L574.1,73.4 L574.3,71.8 L574.5,70.1 L574.8,68.5 L575.0,66.9 L575.2,65.2 L575.5,63.6 L575.7,61.9 L576.0,60.3 L576.2,58.7 L576.5,57.0 L576.8,55.4 L577.0,53.8 L577.3,52.2 L577.6,50.5 L577.9,48.9 L578.3,47.3 L578.6,45.7 L578.9,44.1 L579.3,42.4 L579.7,40.8 L580.1,39.2 L580.5,37.6 L580.9,36.0 L581.3,34.4 L581.7,32.8 L582.2,31.2 L582.7,29.6 L583.2,28.0 L583.7,26.4 L584.3,24.8 L584.8,23.2 L585.4,21.6 L586.0,20.0 L586.7,18.5 L587.3,16.9 L588.0,15.3 L588.7,13.7 L589.4,12.1" fill="none" stroke="#0000ff" stroke-width="2.00" stroke-linejoin="round" stroke-linecap="round"/>
<path d="M451.8,99.9 L453.1,98.3 L454.2,96.6 L455.2,94.9 L456.0,93.2 L456.7,91.4 L457.3,89.5 L457.9,87.6 L458.5,85.6 L459.0,83.5 L459.6,81.3 L460.3,79.0 L461.1,76.5 L462.0,74.0 L462.9,71.5 L463.9,69.2 L465.0,67.1 L466.0,65.3 L467.0,64.0 L468.0,63.3 L468.8,63.2 L469.6,63.9 L470.4,65.1 L471.0,66.8 L471.6,68.8 L472.2,70.9 L472.8,73.1 L473.3,75.2 L473.8,77.3 L474.3,79.5 L474.8,81.6 L475.3,83.7 L475.7,85.8 L476.1,87.9 L476.5,90.0 L476.9,92.1 L477.3,94.2 L477.7,96.3 L478.0,98.3 L478.4,100.4 L478.7,102.5 L479.0,104.6 L479.3,106.6 L479.6,108.7 L479.9,110.7 L480.2,112.8 L480.4,114.8 L480.7,116.9 L480.9,118.9 L481.2,120.9 L481.4,123.0 L481.6,125.0 L481.9,127.0 L482.1,129.1 L482.3,131.1 L482.5,133.1 L482.7,135.2 L483.0,137.2 L483.2,139.2 L483.4,141.3 L483.6,143.3 L483.8,145.3 L484.0,147.3 L484.2,149.4 L484.4,151.4 L484.7,153.4 L484.9,155.5 L485.1,157.5 L485.3,159.6 L485.6,161.6 L485.8,163.6 L486.1,165.7 L486.3,167.7 L486.6,169.8 L486.9,171.8 L487.2,173.9 L487.5,176.0 L487.8,178.0 L488.1,180.1 L488.4,182.2 L488.7,184.3 L489.1,186.4 L489.5,188.4 L489.8,190.5 L490.2,192.6 L490.6,194.7 L491.0,196.8 L491.4,198.9 L491.8,200.9 L492.2,203.0 L492.5,205.0 L492.9,207.0 L493.3,208.9 L493.6,210.9 L494.0,212.8 L494.3,214.7 L494.6,216.6 L494.9,218.4 L495.2,220.4 L495.5,222.3 L495.8,224.4 L496.2,226.5 L496.6,228.7 L497.0,231.1 L497.4,233.6 L497.9,236.3 L498.4,238.9 L499.0,241.5 L499.5,243.8 L500.1,245.8 L500.8,247.4 L501.4,248.4 L502.0,248.7 L502.7,248.3 L503.3,247.3 L503.9,245.6 L504.6,243.6 L505.2,241.3 L505.8,238.8 L506.5,236.3 L507.1,233.8 L507.7,231.4 L508.3,229.1 L508.9,226.9 L509.5,224.8 L510.1,222.7 L510.8,220.7 L511.5,218.8 L512.2,217.0 L513.0,215.2 L513.7,213.4 L514.6,211.7 L515.5,210.0 L516.4,208.3 L517.4,206.7 L518.5,205.1 L519.7,203.4 L520.9,201.8 L522.2,200.2 L523.5,198.6 L524.9,196.9 L526.3,195.2 L527.6,193.5 L528.9,191.7 L530.1,189.9 L531.3,188.1 L532.5,186.3 L533.7,184.5 L534.9,182.7 L536.1,181.1 L537.4,179.5 L538.8,178.1 L540.2,176.7 L541.7,175.6 L543.4,174.5 L545.2,173.7 L547.1,173.1 L549.1,172.6 L551.1,172.3 L553.3,172.1 L555.3,171.9 L557.3,171.6 L559.2,171.0 L560.9,170.1 L562.4,169.0 L563.8,167.6 L565.1,166.1 L566.3,164.4 L567.4,162.7 L568.4,160.8 L569.3,158.9 L570.2,157.0 L571.0,155.1 L571.8,153.2 L572.6,151.2 L573.3,149.2 L574.1,147.3 L574.8,145.3 L575.5,143.3 L576.2,141.4 L576.9,139.4 L577.6,137.5 L578.3,135.5 L579.1,133.6 L579.9,131.7 L580.7,129.8 L581.6,128.0 L582.5,126.2 L583.5,124.4 L584.5,122.6 L585.6,120.9 L586.7,119.2 L587.9,117.5 L589.2,115.9 L590.6,114.3 L592.0,112.8 L593.5,111.3 L595.0,109.8 L596.5,108.3 L597.9,106.8 L599.3,105.2 L600.5,103.6 L601.6,101.9 L602.6,100.1 L603.5,98.2 L604.3,96.3 L605.0,94.4 L605.7,92.4 L606.3,90.4 L606.9,88.4 L607.5,86.4 L608.0,84.4 L608.6,82.4 L609.2,80.4 L609.7,78.4 L610.3,76.4 L610.8,74.4 L611.3,72.4 L611.9,70.4 L612.4,68.4 L612.9,66.4 L613.4,64.4 L613.9,62.4 L614.4,60.4 L614.9,58.4 L615.4,56.4 L615.9,54.4 L616.4,52.4 L616.9,50.4 L617.4,48.4 L617.9,46.4 L618.3,44.4 L618.8,42.4 L619.3,40.4 L619.9,38.3 L620.4,36.3 L620.9,34.3 L621.4,32.3 L621.9,30.3 L622.4,28.4 L623.0,26.4 L623.5,24.4 L624.1,22.4 L624.7,20.4 L625.2,18.4 L625.8,16.4 L626.4,14.4 L627.0,12.4" fill="none" stroke="#00ee00" stroke-width="2.00" stroke-linejoin="round" stroke-linecap="round"/>
<path d="M741.7,12.4 C742.7,14.3 746.5,21.9 747.4,23.8" fill="none" stroke="#000000" stroke-width="2.00" stroke-linejoin="round" stroke-linecap="round"/>
<path d="M719.2,12.4 C719.6,16.4 720.5,27.9 721.4,36.2 C722.3,44.5 723.7,54.3 724.7,62.4 C725.7,70.5 726.3,78.0 727.3,85.0 C728.3,92.0 729.3,98.6 730.6,104.7 C731.9,110.8 733.4,116.0 735.2,121.7 C737.1,127.4 739.7,134.2 741.7,138.7 C743.7,143.2 746.5,146.9 747.4,148.6" fill="none" stroke="#ff0000" stroke-width="2.00" stroke-linejoin="round" stroke-linecap="round"/>
<path d="M724.0,12.4 C724.8,16.4 726.7,28.3 728.6,36.2 C730.5,44.1 733.0,53.7 735.2,59.8 C737.4,65.9 739.7,70.0 741.7,72.9 C743.7,75.9 746.5,76.7 747.4,77.5" fill="none" stroke="#0000ff" stroke-width="2.00" stroke-linejoin="round" stroke-linecap="round"/>
<path d="M714.2,12.4 C714.6,16.4 715.7,27.9 716.8,36.2 C717.9,44.5 719.5,54.3 720.8,62.4 C722.1,70.5 723.4,79.0 724.7,85.0 C726.0,91.0 726.9,93.7 728.6,98.1 C730.4,102.5 733.0,107.6 735.2,111.2 C737.4,114.8 739.7,117.7 741.7,119.7 C743.7,121.7 746.5,122.5 747.4,123.0" fill="none" stroke="#00ee00" stroke-width="2.00" stroke-linejoin="round" stroke-linecap="round"/>
</g>
<g font-family="Liberation Serif" font-weight="bold" font-size="19" fill="#262626">
<text x="447" y="259.5" text-anchor="end">1</text>
<text x="447" y="219.5" text-anchor="end">1.5</text>
<text x="447" y="179.5" text-anchor="end">2</text>
<text x="447" y="139.4" text-anchor="end">2.5</text>
<text x="447" y="99.4" text-anchor="end">3</text>
<text x="447" y="59.4" text-anchor="end">3.5</text>
<text x="447" y="19.4" text-anchor="end">4</text>
<text x="451.6" y="275.5" text-anchor="middle">4.8</text>
<text x="510.8" y="275.5" text-anchor="middle">4.9</text>
<text x="569.9" y="275.5" text-anchor="middle">5</text>
<text x="629.1" y="275.5" text-anchor="middle">5.1</text>
<text x="688.2" y="275.5" text-anchor="middle">5.2</text>
<text x="747.4" y="275.5" text-anchor="middle">5.3</text>
</g>
<text font-family="Liberation Serif" font-weight="bold" font-size="20" fill="#262626" x="599.5" y="298.2" text-anchor="middle">Frequency (GHz)</text>
<text font-family="Liberation Serif" font-weight="bold" font-size="20" fill="#262626" transform="translate(418.5,132) rotate(-90)" text-anchor="middle">VSWR</text>
<rect x="627.5" y="165.9" width="85.3" height="69.9" fill="#fff" stroke="#909090" stroke-width="1"/>
<line x1="629.2" y1="175.1" x2="645.8" y2="175.1" stroke="#000000" stroke-width="2"/>
<text font-family="Liberation Serif" font-weight="bold" font-size="15" fill="#111" x="654.6" y="180.9">VSWR 1</text>
<line x1="629.2" y1="192.2" x2="645.8" y2="192.2" stroke="#ff0000" stroke-width="2"/>
<text font-family="Liberation Serif" font-weight="bold" font-size="15" fill="#111" x="654.6" y="198.1">VSWR 3</text>
<line x1="629.2" y1="209.4" x2="645.8" y2="209.4" stroke="#0000ff" stroke-width="2"/>
<text font-family="Liberation Serif" font-weight="bold" font-size="15" fill="#111" x="654.6" y="215.2">VSWR 5</text>
<line x1="629.2" y1="226.5" x2="645.8" y2="226.5" stroke="#00ee00" stroke-width="2"/>
<text font-family="Liberation Serif" font-weight="bold" font-size="15" fill="#111" x="654.6" y="232.3">VSWR 7</text>
<text font-family="Liberation Serif" font-size="17" fill="#262626" x="604.5" y="316.5" text-anchor="middle">(<tspan font-weight="bold">b</tspan>)</text>
<line x1="135.8" y1="325.5" x2="135.8" y2="567.2" stroke="#6a6a6a" stroke-width="1" stroke-dasharray="1.1 1.47"/>
<line x1="209.3" y1="325.5" x2="209.3" y2="567.2" stroke="#6a6a6a" stroke-width="1" stroke-dasharray="1.1 1.47"/>
<line x1="282.8" y1="325.5" x2="282.8" y2="567.2" stroke="#6a6a6a" stroke-width="1" stroke-dasharray="1.1 1.47"/>
<line x1="62.2" y1="526.9" x2="356.4" y2="526.9" stroke="#6a6a6a" stroke-width="1" stroke-dasharray="1.1 1.47"/>
<line x1="62.2" y1="486.6" x2="356.4" y2="486.6" stroke="#6a6a6a" stroke-width="1" stroke-dasharray="1.1 1.47"/>
<line x1="62.2" y1="446.4" x2="356.4" y2="446.4" stroke="#6a6a6a" stroke-width="1" stroke-dasharray="1.1 1.47"/>
<line x1="62.2" y1="406.1" x2="356.4" y2="406.1" stroke="#6a6a6a" stroke-width="1" stroke-dasharray="1.1 1.47"/>
<line x1="62.2" y1="365.8" x2="356.4" y2="365.8" stroke="#6a6a6a" stroke-width="1" stroke-dasharray="1.1 1.47"/>
<rect x="181.3" y="460.3" width="50.6" height="92.6" fill="#fff"/>
<rect x="62.2" y="325.5" width="294.2" height="241.7" fill="none" stroke="#7a7a7a" stroke-width="1.30"/>
<g clip-path="url(#cc)">
<path d="M62.0,437.6 L64.2,436.3 L66.4,435.1 L68.6,433.8 L70.9,432.6 L73.1,431.4 L75.4,430.2 L77.7,429.0 L79.9,427.9 L82.2,426.8 L84.5,425.7 L86.8,424.6 L89.1,423.6 L91.5,422.6 L93.8,421.6 L96.1,420.6 L98.5,419.7 L100.9,418.7 L103.2,417.8 L105.6,416.9 L108.0,416.1 L110.4,415.2 L112.8,414.4 L115.2,413.6 L117.6,412.8 L120.0,412.1 L122.4,411.4 L124.8,410.6 L127.3,409.9 L129.7,409.3 L132.2,408.6 L134.6,408.0 L137.1,407.3 L139.5,406.7 L142.0,406.2 L144.5,405.6 L147.0,405.1 L149.5,404.5 L151.9,404.0 L154.4,403.5 L156.9,403.1 L159.4,402.6 L161.9,402.2 L164.5,401.8 L167.0,401.4 L169.5,401.0 L172.0,400.6 L174.5,400.3 L177.1,400.0 L179.6,399.6 L182.1,399.3 L184.7,399.1 L187.2,398.8 L189.7,398.5 L192.3,398.3 L194.8,398.1 L197.4,397.9 L199.9,397.7 L202.5,397.5 L205.0,397.4 L207.6,397.2 L210.1,397.1 L212.7,397.0 L215.3,396.9 L217.8,396.8 L220.4,396.7 L222.9,396.6 L225.5,396.6 L228.0,396.6 L230.6,396.5 L233.2,396.5 L235.7,396.5 L238.3,396.6 L240.8,396.6 L243.4,396.7 L245.9,396.7 L248.5,396.8 L251.1,396.9 L253.6,397.0 L256.2,397.1 L258.7,397.3 L261.3,397.4 L263.8,397.6 L266.4,397.8 L268.9,397.9 L271.5,398.2 L274.0,398.4 L276.5,398.6 L279.1,398.8 L281.6,399.1 L284.2,399.4 L286.7,399.7 L289.2,400.0 L291.8,400.3 L294.3,400.6 L296.8,400.9 L299.3,401.3 L301.8,401.7 L304.4,402.0 L306.9,402.4 L309.4,402.8 L311.9,403.3 L314.4,403.7 L316.9,404.1 L319.4,404.6 L321.9,405.1 L324.4,405.5 L326.8,406.0 L329.3,406.6 L331.8,407.1 L334.3,407.6 L336.7,408.2 L339.2,408.7 L341.7,409.3 L344.1,409.9 L346.6,410.5 L349.0,411.1 L351.4,411.7 L353.9,412.4 L356.3,413.0" fill="none" stroke="#000000" stroke-width="2.00" stroke-linejoin="round" stroke-linecap="round"/>
<path d="M62.1,436.3 L64.3,435.0 L66.5,433.7 L68.7,432.4 L71.0,431.2 L73.3,429.9 L75.5,428.6 L77.8,427.4 L80.1,426.1 L82.4,424.9 L84.7,423.6 L87.1,422.4 L89.4,421.2 L91.8,420.0 L94.1,418.9 L96.5,417.7 L98.8,416.5 L101.2,415.4 L103.6,414.3 L106.0,413.1 L108.4,412.0 L110.8,411.0 L113.3,409.9 L115.7,408.8 L118.1,407.8 L120.6,406.8 L123.0,405.8 L125.5,404.8 L128.0,403.8 L130.5,402.8 L132.9,401.9 L135.4,401.0 L137.9,400.1 L140.4,399.2 L142.9,398.4 L145.5,397.5 L148.0,396.7 L150.5,395.9 L153.0,395.1 L155.6,394.4 L158.1,393.7 L160.7,392.9 L163.2,392.3 L165.8,391.6 L168.4,391.0 L170.9,390.3 L173.5,389.8 L176.1,389.2 L178.6,388.7 L181.2,388.1 L183.8,387.7 L186.4,387.2 L189.0,386.8 L191.6,386.4 L194.2,386.0 L196.8,385.6 L199.4,385.3 L202.0,385.0 L204.6,384.7 L207.2,384.5 L209.9,384.3 L212.5,384.1 L215.1,384.0 L217.7,383.9 L220.3,383.8 L223.0,383.7 L225.6,383.7 L228.2,383.7 L230.8,383.8 L233.4,383.8 L236.1,383.9 L238.7,384.1 L241.3,384.2 L243.9,384.4 L246.5,384.6 L249.1,384.9 L251.7,385.2 L254.3,385.5 L256.9,385.8 L259.5,386.2 L262.1,386.6 L264.7,387.0 L267.3,387.5 L269.8,388.0 L272.4,388.5 L275.0,389.0 L277.5,389.6 L280.1,390.2 L282.6,390.9 L285.2,391.6 L287.7,392.3 L290.2,393.0 L292.7,393.8 L295.3,394.6 L297.8,395.4 L300.2,396.3 L302.7,397.2 L305.2,398.1 L307.7,399.0 L310.1,400.0 L312.6,401.0 L315.0,402.1 L317.4,403.2 L319.8,404.3 L322.2,405.4 L324.6,406.6 L327.0,407.8 L329.3,409.0 L331.7,410.3 L334.0,411.6 L336.3,412.9 L338.6,414.2 L340.9,415.6 L343.2,417.0 L345.5,418.5 L347.7,420.0 L349.9,421.5 L352.2,423.0 L354.4,424.6 L356.5,426.2" fill="none" stroke="#00ee00" stroke-width="2.00" stroke-linejoin="round" stroke-linecap="round"/>
<path d="M62.2,439.2 L64.4,437.9 L66.6,436.7 L68.9,435.4 L71.1,434.2 L73.4,433.0 L75.7,431.8 L77.9,430.6 L80.2,429.4 L82.5,428.2 L84.9,427.1 L87.2,425.9 L89.5,424.8 L91.9,423.6 L94.2,422.5 L96.6,421.4 L98.9,420.3 L101.3,419.3 L103.7,418.2 L106.1,417.2 L108.5,416.1 L110.9,415.1 L113.3,414.1 L115.8,413.1 L118.2,412.2 L120.6,411.2 L123.1,410.3 L125.6,409.3 L128.0,408.4 L130.5,407.5 L133.0,406.7 L135.4,405.8 L137.9,405.0 L140.4,404.2 L142.9,403.3 L145.4,402.6 L147.9,401.8 L150.5,401.0 L153.0,400.3 L155.5,399.6 L158.0,398.9 L160.6,398.2 L163.1,397.6 L165.7,396.9 L168.2,396.3 L170.7,395.7 L173.3,395.2 L175.9,394.6 L178.4,394.1 L181.0,393.6 L183.6,393.1 L186.1,392.7 L188.7,392.2 L191.3,391.8 L193.8,391.5 L196.4,391.1 L199.0,390.8 L201.6,390.5 L204.2,390.3 L206.7,390.1 L209.3,389.9 L211.9,389.7 L214.5,389.6 L217.1,389.5 L219.7,389.4 L222.2,389.4 L224.8,389.4 L227.4,389.5 L230.0,389.5 L232.6,389.6 L235.1,389.8 L237.7,390.0 L240.3,390.2 L242.9,390.4 L245.4,390.7 L248.0,391.0 L250.6,391.3 L253.1,391.7 L255.7,392.1 L258.3,392.5 L260.8,393.0 L263.4,393.5 L265.9,394.0 L268.5,394.5 L271.0,395.1 L273.6,395.7 L276.1,396.3 L278.6,396.9 L281.1,397.6 L283.7,398.3 L286.2,399.0 L288.7,399.7 L291.2,400.5 L293.7,401.2 L296.2,402.0 L298.7,402.9 L301.2,403.7 L303.7,404.6 L306.1,405.5 L308.6,406.4 L311.1,407.3 L313.5,408.2 L316.0,409.2 L318.4,410.1 L320.8,411.1 L323.3,412.1 L325.7,413.2 L328.1,414.2 L330.5,415.2 L332.9,416.3 L335.3,417.4 L337.6,418.5 L340.0,419.6 L342.4,420.7 L344.7,421.8 L347.1,423.0 L349.4,424.1 L351.7,425.3 L354.0,426.5 L356.3,427.6" fill="none" stroke="#0000ff" stroke-width="2.00" stroke-linejoin="round" stroke-linecap="round"/>
<path d="M62.1,438.1 L64.4,436.9 L66.8,435.8 L69.1,434.6 L71.4,433.5 L73.7,432.4 L76.1,431.3 L78.4,430.2 L80.8,429.1 L83.2,428.1 L85.5,427.1 L87.9,426.0 L90.3,425.0 L92.7,424.1 L95.0,423.1 L97.4,422.1 L99.8,421.1 L102.2,420.2 L104.6,419.2 L107.0,418.3 L109.4,417.4 L111.9,416.5 L114.3,415.5 L116.7,414.6 L119.1,413.7 L121.5,412.8 L124.0,411.9 L126.4,411.0 L128.8,410.1 L131.3,409.2 L133.7,408.3 L136.1,407.4 L138.6,406.5 L141.0,405.6 L143.4,404.7 L145.9,403.8 L148.3,402.9 L150.8,402.0 L153.2,401.1 L155.7,400.2 L158.1,399.4 L160.6,398.5 L163.0,397.7 L165.5,396.8 L167.9,396.0 L170.4,395.2 L172.9,394.3 L175.4,393.5 L177.8,392.7 L180.3,392.0 L182.8,391.2 L185.3,390.5 L187.8,389.7 L190.3,389.0 L192.8,388.3 L195.3,387.7 L197.8,387.0 L200.3,386.4 L202.8,385.7 L205.3,385.2 L207.8,384.6 L210.4,384.0 L212.9,383.5 L215.4,383.0 L218.0,382.5 L220.5,382.1 L223.1,381.7 L225.6,381.3 L228.2,380.9 L230.8,380.6 L233.3,380.2 L235.9,379.9 L238.5,379.7 L241.0,379.5 L243.6,379.3 L246.2,379.1 L248.7,379.0 L251.3,378.8 L253.9,378.8 L256.5,378.7 L259.0,378.7 L261.6,378.7 L264.2,378.8 L266.8,378.9 L269.3,379.0 L271.9,379.2 L274.5,379.4 L277.0,379.6 L279.6,379.9 L282.2,380.2 L284.7,380.5 L287.3,380.9 L289.8,381.3 L292.4,381.8 L294.9,382.3 L297.5,382.8 L300.0,383.4 L302.6,384.0 L305.1,384.6 L307.6,385.2 L310.1,385.9 L312.6,386.6 L315.1,387.4 L317.6,388.2 L320.1,388.9 L322.6,389.8 L325.1,390.6 L327.5,391.5 L330.0,392.4 L332.4,393.3 L334.9,394.3 L337.3,395.2 L339.7,396.2 L342.1,397.2 L344.5,398.2 L346.9,399.3 L349.3,400.4 L351.7,401.4 L354.0,402.5 L356.3,403.6" fill="none" stroke="#ff0000" stroke-width="2.00" stroke-linejoin="round" stroke-linecap="round"/>
</g>
<text font-family="Liberation Serif" font-weight="bold" font-size="23.00" fill="#000" text-anchor="end" transform="translate(57.00,338.27) scale(1,1.000)">0</text>
<text font-family="Liberation Serif" font-weight="bold" font-size="23.00" fill="#000" text-anchor="end" transform="translate(57.00,374.17) scale(1,1.000)">-5</text>
<text font-family="Liberation Serif" font-weight="bold" font-size="23.00" fill="#000" text-anchor="end" transform="translate(57.00,413.77) scale(1,1.000)">-10</text>
<text font-family="Liberation Serif" font-weight="bold" font-size="23.00" fill="#000" text-anchor="end" transform="translate(57.00,453.97) scale(1,1.000)">-15</text>
<text font-family="Liberation Serif" font-weight="bold" font-size="23.00" fill="#000" text-anchor="end" transform="translate(57.00,494.37) scale(1,1.000)">-20</text>
<text font-family="Liberation Serif" font-weight="bold" font-size="23.00" fill="#000" text-anchor="end" transform="translate(57.00,534.37) scale(1,1.000)">-25</text>
<text font-family="Liberation Serif" font-weight="bold" font-size="23.00" fill="#000" text-anchor="end" transform="translate(57.00,571.87) scale(1,1.000)">-30</text>
<text font-family="Liberation Serif" font-weight="bold" font-size="23.00" fill="#000" text-anchor="middle" transform="translate(65.65,587.77) scale(1,1.000)">4.6</text>
<text font-family="Liberation Serif" font-weight="bold" font-size="23.00" fill="#000" text-anchor="middle" transform="translate(132.40,587.77) scale(1,1.000)">4.8</text>
<text font-family="Liberation Serif" font-weight="bold" font-size="23.00" fill="#000" text-anchor="middle" transform="translate(209.10,587.77) scale(1,1.000)">5</text>
<text font-family="Liberation Serif" font-weight="bold" font-size="23.00" fill="#000" text-anchor="middle" transform="translate(281.80,587.77) scale(1,1.000)">5.2</text>
<text font-family="Liberation Serif" font-weight="bold" font-size="23.00" fill="#000" text-anchor="middle" transform="translate(350.00,587.77) scale(1,1.000)">5.4</text>
<text font-family="Liberation Serif" font-weight="bold" font-size="22.70" fill="#000" text-anchor="middle" transform="translate(210.10,607.30) scale(1,1.040)">Frequency (GHz)</text>
<text font-family="Liberation Serif" font-weight="bold" font-size="22.70" fill="#000" text-anchor="middle" transform="translate(22.10,445.70) rotate(-90) scale(1.017,1)">S-parameters (dB)</text>
<line x1="184.8" y1="473.4" x2="201.3" y2="473.4" stroke="#000000" stroke-width="2"/>
<text font-family="Liberation Serif" font-weight="bold" font-size="22.00" fill="#000" text-anchor="start" transform="translate(208.00,480.50) scale(1,1.050)">S<tspan font-size="16.0" dy="2.3" dx="0.8">2</tspan></text>
<line x1="184.8" y1="495.2" x2="201.3" y2="495.2" stroke="#12a812" stroke-width="2"/>
<text font-family="Liberation Serif" font-weight="bold" font-size="22.00" fill="#000" text-anchor="start" transform="translate(208.00,502.30) scale(1,1.050)">S<tspan font-size="16.0" dy="2.3" dx="0.8">4</tspan></text>
<line x1="184.8" y1="517.0" x2="201.3" y2="517.0" stroke="#0000ff" stroke-width="2"/>
<text font-family="Liberation Serif" font-weight="bold" font-size="22.00" fill="#000" text-anchor="start" transform="translate(208.00,524.10) scale(1,1.050)">S<tspan font-size="16.0" dy="2.3" dx="0.8">6</tspan></text>
<line x1="184.8" y1="539.6" x2="201.3" y2="539.6" stroke="#ff0000" stroke-width="2"/>
<text font-family="Liberation Serif" font-weight="bold" font-size="22.00" fill="#000" text-anchor="start" transform="translate(208.00,546.70) scale(1,1.050)">S<tspan font-size="16.0" dy="2.3" dx="0.8">8</tspan></text>
<text font-family="Liberation Serif" font-size="16.8" fill="#000" x="188.4" y="627.8" text-anchor="middle">(<tspan font-weight="bold">c</tspan>)</text>
<line x1="530.2" y1="328.5" x2="530.2" y2="570.2" stroke="#6a6a6a" stroke-width="1" stroke-dasharray="1.1 1.47"/>
<line x1="604.0" y1="328.5" x2="604.0" y2="570.2" stroke="#6a6a6a" stroke-width="1" stroke-dasharray="1.1 1.47"/>
<line x1="677.8" y1="328.5" x2="677.8" y2="570.2" stroke="#6a6a6a" stroke-width="1" stroke-dasharray="1.1 1.47"/>
<line x1="456.5" y1="529.9" x2="751.5" y2="529.9" stroke="#6a6a6a" stroke-width="1" stroke-dasharray="1.1 1.47"/>
<line x1="456.5" y1="489.6" x2="751.5" y2="489.6" stroke="#6a6a6a" stroke-width="1" stroke-dasharray="1.1 1.47"/>
<line x1="456.5" y1="449.4" x2="751.5" y2="449.4" stroke="#6a6a6a" stroke-width="1" stroke-dasharray="1.1 1.47"/>
<line x1="456.5" y1="409.1" x2="751.5" y2="409.1" stroke="#6a6a6a" stroke-width="1" stroke-dasharray="1.1 1.47"/>
<line x1="456.5" y1="368.8" x2="751.5" y2="368.8" stroke="#6a6a6a" stroke-width="1" stroke-dasharray="1.1 1.47"/>
<rect x="457.0" y="460.0" width="62.2" height="95.0" fill="#fff"/>
<rect x="456.5" y="328.5" width="295.0" height="241.7" fill="none" stroke="#7a7a7a" stroke-width="1.30"/>
<g clip-path="url(#cd)">
<path d="M456.5,422.5 C456.9,422.6 458.1,424.2 459.2,423.3 C460.3,422.4 461.6,419.5 463.4,417.3 C465.1,415.1 467.6,411.5 469.7,409.9 C471.8,408.3 474.1,408.3 476.0,407.8 C477.9,407.3 479.5,407.9 481.2,406.8 C482.9,405.8 484.5,403.1 486.4,401.5 C488.3,399.9 490.9,397.8 492.7,397.3 C494.4,396.8 495.3,397.0 496.9,398.4 C498.5,399.8 500.4,403.2 502.2,405.7 C504.0,408.1 506.2,412.3 507.9,413.1 C509.5,413.9 510.8,412.3 512.1,410.4 C513.4,408.5 514.6,404.2 515.8,401.5 C517.0,398.8 517.9,396.5 519.1,394.0 C520.4,391.5 521.9,388.5 523.3,386.6 C524.7,384.8 525.8,383.1 527.5,382.9 C529.2,382.7 532.1,384.4 533.8,385.6 C535.5,386.8 536.1,388.2 537.8,390.0 C539.5,391.8 542.2,393.7 544.1,396.3 C546.0,398.9 547.8,402.2 549.4,405.7 C551.0,409.2 552.3,412.9 553.5,417.3 C554.7,421.7 555.7,425.8 556.7,431.9 C557.7,438.0 558.2,441.8 559.3,454.0 C560.4,466.2 562.1,493.9 563.5,505.0 C564.9,516.1 566.5,520.9 567.9,520.9 C569.3,520.9 570.7,512.5 571.8,505.0 C572.9,497.6 573.2,485.4 574.6,476.2 C576.0,467.0 578.8,454.7 580.4,450.0 C582.0,445.3 582.7,447.7 584.0,448.2 C585.3,448.7 586.7,450.0 588.1,452.9 C589.5,455.8 590.9,462.0 592.4,465.7 C593.9,469.4 595.7,474.8 597.1,475.2 C598.5,475.6 599.6,472.0 600.8,467.8 C601.9,463.6 603.0,454.0 604.0,450.0 C605.0,446.0 605.4,447.1 606.5,444.0 C607.6,440.9 609.1,434.9 610.7,431.4 C612.3,427.9 614.2,423.9 616.0,423.0 C617.8,422.1 619.4,424.9 621.2,426.1 C623.0,427.3 625.1,430.2 627.0,430.3 C628.9,430.4 630.5,428.1 632.7,426.6 C634.9,425.1 637.8,421.6 640.1,421.4 C642.4,421.1 644.3,424.0 646.4,425.1 C648.5,426.2 650.2,428.3 652.7,428.2 C655.2,428.1 659.2,424.8 661.6,424.6 C664.0,424.5 665.3,425.8 667.2,427.3 C669.1,428.8 671.1,432.2 672.9,433.8 C674.7,435.4 676.3,436.6 678.0,436.8 C679.7,437.0 681.6,435.9 683.2,434.8 C684.9,433.8 686.0,431.6 687.9,430.5 C689.8,429.4 692.5,429.2 694.5,428.2 C696.5,427.2 698.4,425.8 700.1,424.4 C701.9,423.0 703.2,421.3 705.0,419.7 C706.8,418.1 708.6,415.5 710.6,414.6 C712.6,413.8 715.0,414.5 716.9,414.6 C718.8,414.7 720.1,415.6 722.2,415.4 C724.3,415.2 727.4,413.9 729.5,413.3 C731.6,412.7 732.6,411.8 734.7,411.8 C736.8,411.8 739.3,412.8 742.1,413.5 C744.9,414.2 749.9,415.8 751.5,416.2" fill="none" stroke="#000000" stroke-width="2.00" stroke-linejoin="round" stroke-linecap="round"/>
<path d="M456.5,426.2 C457.3,425.6 459.8,424.7 461.3,422.5 C462.8,420.3 463.9,416.4 465.5,413.1 C467.1,409.8 468.9,404.8 470.7,402.6 C472.4,400.4 474.1,400.4 476.0,400.0 C477.9,399.6 480.6,400.4 482.3,400.0 C484.0,399.6 484.8,398.8 486.4,397.3 C488.0,395.8 490.3,392.7 491.7,391.0 C493.1,389.3 493.4,388.2 495.0,387.1 C496.6,386.0 499.6,384.8 501.3,384.5 C503.1,384.2 503.8,385.1 505.5,385.6 C507.2,386.1 509.7,388.4 511.8,387.7 C513.9,387.0 516.0,384.0 518.1,381.4 C520.2,378.8 522.3,374.5 524.4,371.9 C526.5,369.3 528.5,367.1 530.6,365.6 C532.7,364.1 534.8,362.6 536.9,362.8 C539.0,363.0 541.3,364.5 543.2,366.7 C545.1,368.9 546.8,371.6 548.5,376.1 C550.2,380.7 552.4,389.1 553.7,394.0 C555.0,398.9 555.3,400.6 556.2,405.7 C557.1,410.8 558.3,416.6 559.3,424.6 C560.2,432.7 560.9,442.8 561.9,454.0 C562.9,465.2 564.4,480.9 565.2,491.9 C566.0,502.9 566.5,506.9 566.8,520.0 C567.1,533.0 567.1,561.8 567.2,570.2" fill="none" stroke="#00ee00" stroke-width="2.00" stroke-linejoin="round" stroke-linecap="round"/>
<path d="M570.1,570.2 C570.2,561.8 570.2,529.4 570.6,520.0 C571.0,510.6 571.5,521.3 572.5,514.0 C573.5,506.7 575.3,487.1 576.7,476.2 C578.1,465.3 579.1,455.5 580.8,448.7 C582.4,441.9 584.5,435.8 586.6,435.1 C588.7,434.4 591.3,441.3 593.4,444.5 C595.5,447.7 597.6,453.3 599.2,454.2 C600.8,455.1 602.2,451.7 602.9,450.0 C603.6,448.3 602.6,447.8 603.4,444.0 C604.2,440.2 606.0,432.3 607.6,427.2 C609.2,422.1 611.0,416.4 612.8,413.5 C614.5,410.6 616.4,410.2 618.1,409.9 C619.9,409.5 621.7,410.9 623.3,411.4 C624.9,411.9 625.9,413.0 627.5,413.0 C629.1,413.0 630.6,412.4 632.7,411.4 C634.8,410.3 637.8,407.3 640.1,406.7 C642.4,406.1 644.1,406.8 646.4,407.8 C648.7,408.8 650.7,411.0 653.7,412.5 C656.7,414.0 661.5,415.2 664.4,416.9 C667.3,418.6 668.6,420.8 671.0,422.6 C673.4,424.4 676.1,427.4 678.5,427.7 C680.9,428.0 682.8,426.2 685.1,424.4 C687.5,422.6 690.1,418.8 692.6,416.9 C695.1,415.0 697.1,414.3 700.1,413.2 C703.1,412.1 707.5,410.5 710.6,410.4 C713.8,410.3 716.2,411.5 719.0,412.5 C721.8,413.5 724.8,415.1 727.4,416.2 C730.0,417.2 732.2,417.5 734.7,418.8 C737.2,420.1 739.3,421.9 742.1,424.0 C744.9,426.1 749.9,430.2 751.5,431.4" fill="none" stroke="#00ee00" stroke-width="2.00" stroke-linejoin="round" stroke-linecap="round"/>
<path d="M456.5,435.6 C457.1,435.0 458.7,434.3 460.2,431.9 C461.7,429.5 463.8,424.7 465.5,421.4 C467.2,418.1 468.9,413.8 470.7,412.0 C472.4,410.2 474.1,410.6 476.0,410.4 C477.9,410.2 480.6,411.4 482.3,411.0 C484.0,410.6 484.8,409.4 486.4,407.8 C488.0,406.2 490.1,403.1 491.7,401.5 C493.3,399.9 494.1,398.6 495.9,397.9 C497.6,397.2 499.9,397.2 502.2,397.3 C504.5,397.4 507.6,398.6 509.5,398.4 C511.4,398.2 512.5,397.4 513.7,396.3 C515.0,395.2 515.6,393.8 517.0,392.0 C518.4,390.2 520.2,388.1 522.3,385.6 C524.4,383.1 527.3,379.3 529.6,377.2 C531.9,375.1 533.8,373.0 535.9,373.0 C538.0,373.0 540.5,375.3 542.2,377.2 C544.0,379.1 545.2,381.7 546.4,384.5 C547.6,387.3 548.5,390.5 549.5,394.0 C550.5,397.5 551.3,400.6 552.5,405.7 C553.7,410.8 555.4,416.6 556.7,424.6 C558.0,432.7 559.3,440.6 560.4,454.0 C561.5,467.4 562.3,489.5 563.5,505.0 C564.7,520.5 565.9,547.2 567.4,547.2 C568.9,547.2 571.1,516.8 572.3,505.0 C573.5,493.2 573.2,485.4 574.6,476.2 C576.0,467.0 578.5,456.4 580.4,450.0 C582.3,443.6 583.8,437.6 586.0,437.7 C588.2,437.8 591.4,446.1 593.4,450.8 C595.4,455.5 596.8,464.4 598.2,465.7 C599.6,467.0 600.8,461.0 601.8,458.4 C602.8,455.8 603.5,452.4 604.0,450.0 C604.5,447.6 604.0,448.0 605.0,444.0 C606.0,440.0 607.9,430.8 609.7,426.1 C611.5,421.4 614.1,417.2 616.0,415.6 C617.9,414.0 619.3,416.1 621.2,416.7 C623.1,417.3 625.4,419.5 627.5,419.0 C629.6,418.5 631.7,414.9 633.8,413.5 C635.9,412.1 637.5,410.3 640.1,410.4 C642.7,410.4 647.1,413.3 649.5,413.8 C651.9,414.3 652.5,413.9 654.7,413.5 C656.9,413.1 660.1,410.9 662.5,411.3 C664.9,411.7 667.1,414.1 669.1,416.0 C671.1,417.9 672.7,420.8 674.7,422.6 C676.7,424.4 679.1,426.8 681.3,426.8 C683.5,426.8 685.5,425.0 687.9,422.6 C690.2,420.2 693.0,414.6 695.4,412.2 C697.8,409.8 699.3,409.4 702.0,408.5 C704.7,407.6 708.7,407.4 711.7,407.0 C714.7,406.6 717.7,406.1 720.1,406.2 C722.5,406.3 724.3,406.6 726.4,407.8 C728.5,409.0 730.8,411.1 732.7,413.5 C734.6,415.9 736.0,419.4 737.9,421.9 C739.8,424.3 741.9,426.1 744.2,428.2 C746.5,430.3 750.3,433.4 751.5,434.5" fill="none" stroke="#0000ff" stroke-width="2.00" stroke-linejoin="round" stroke-linecap="round"/>
<path d="M456.5,427.7 C457.3,427.2 459.8,426.3 461.3,424.6 C462.8,422.9 463.9,419.6 465.5,417.3 C467.1,415.0 468.9,412.4 470.7,411.0 C472.4,409.6 474.1,409.2 476.0,408.9 C477.9,408.6 480.6,409.9 482.3,409.4 C484.0,408.9 484.8,407.4 486.4,405.7 C488.0,404.0 489.8,401.0 491.7,399.4 C493.6,397.8 496.1,396.2 498.0,395.8 C499.9,395.4 501.4,396.6 503.2,396.8 C504.9,397.0 506.8,397.4 508.5,396.8 C510.2,396.2 511.6,395.9 513.7,393.1 C515.8,390.4 518.6,385.1 521.2,380.3 C523.9,375.6 527.3,369.0 529.6,364.6 C531.9,360.2 533.2,356.8 534.8,354.1 C536.4,351.4 537.7,349.6 539.0,348.3 C540.3,347.1 541.3,346.3 542.7,346.6 C544.1,346.9 545.8,347.6 547.4,349.9 C549.0,352.2 550.7,356.0 552.1,360.4 C553.5,364.8 554.8,370.5 555.8,376.1 C556.8,381.7 557.5,388.5 558.4,394.0 C559.2,399.5 560.0,402.6 560.9,408.9 C561.8,415.2 562.7,424.4 563.5,431.9 C564.3,439.4 565.0,448.4 565.6,454.0 C566.2,459.6 566.5,461.9 567.3,465.7 C568.1,469.5 569.4,477.0 570.6,477.0 C571.8,477.0 573.2,469.5 574.6,465.7 C576.0,461.9 577.0,459.6 578.7,454.0 C580.4,448.4 582.5,437.4 585.0,431.9 C587.5,426.4 590.9,421.5 593.4,421.2 C595.9,420.9 598.2,427.7 600.2,430.3 C602.2,432.9 603.8,437.0 605.5,436.6 C607.2,436.2 609.0,431.7 610.7,428.2 C612.5,424.7 614.1,418.7 616.0,415.6 C617.9,412.5 620.4,410.3 622.3,409.4 C624.2,408.5 625.8,410.2 627.5,410.4 C629.2,410.6 631.0,411.1 632.7,410.4 C634.5,409.7 636.2,407.2 638.0,406.2 C639.8,405.1 641.3,404.0 643.2,404.1 C645.1,404.2 647.5,405.5 649.5,406.7 C651.5,407.9 652.8,409.3 655.0,411.3 C657.2,413.3 660.3,416.1 662.5,418.8 C664.7,421.5 666.5,423.9 668.2,427.3 C669.9,430.8 671.5,435.6 672.9,439.5 C674.3,443.4 675.5,448.3 676.6,450.8 C677.7,453.3 678.5,454.5 679.6,454.5 C680.7,454.5 681.8,453.3 683.2,450.8 C684.6,448.3 686.3,443.3 687.9,439.5 C689.5,435.7 691.0,430.9 692.6,428.2 C694.2,425.5 695.9,424.8 697.3,423.5 C698.7,422.2 699.7,421.6 701.2,420.5 C702.7,419.4 704.5,417.9 706.4,416.7 C708.3,415.5 710.6,413.8 712.7,413.3 C714.8,412.8 717.1,413.3 719.0,413.5 C720.9,413.7 722.4,414.6 724.3,414.6 C726.2,414.7 728.3,414.1 730.6,413.8 C732.9,413.5 735.6,412.7 737.9,413.0 C740.2,413.3 741.9,415.0 744.2,415.6 C746.5,416.2 750.3,416.5 751.5,416.7" fill="none" stroke="#ff0000" stroke-width="2.00" stroke-linejoin="round" stroke-linecap="round"/>
</g>
<text font-family="Liberation Serif" font-weight="bold" font-size="23.00" fill="#000" text-anchor="end" transform="translate(452.00,340.77) scale(1,1.000)">0</text>
<text font-family="Liberation Serif" font-weight="bold" font-size="23.00" fill="#000" text-anchor="end" transform="translate(452.00,376.67) scale(1,1.000)">-5</text>
<text font-family="Liberation Serif" font-weight="bold" font-size="23.00" fill="#000" text-anchor="end" transform="translate(452.00,416.17) scale(1,1.000)">-10</text>
<text font-family="Liberation Serif" font-weight="bold" font-size="23.00" fill="#000" text-anchor="end" transform="translate(452.00,456.67) scale(1,1.000)">-15</text>
<text font-family="Liberation Serif" font-weight="bold" font-size="23.00" fill="#000" text-anchor="end" transform="translate(452.00,497.47) scale(1,1.000)">-20</text>
<text font-family="Liberation Serif" font-weight="bold" font-size="23.00" fill="#000" text-anchor="end" transform="translate(452.00,537.27) scale(1,1.000)">-25</text>
<text font-family="Liberation Serif" font-weight="bold" font-size="23.00" fill="#000" text-anchor="end" transform="translate(452.00,575.17) scale(1,1.000)">-30</text>
<text font-family="Liberation Serif" font-weight="bold" font-size="23.00" fill="#000" text-anchor="middle" transform="translate(460.40,590.07) scale(1,1.000)">4.6</text>
<text font-family="Liberation Serif" font-weight="bold" font-size="23.00" fill="#000" text-anchor="middle" transform="translate(527.50,590.07) scale(1,1.000)">4.8</text>
<text font-family="Liberation Serif" font-weight="bold" font-size="23.00" fill="#000" text-anchor="middle" transform="translate(603.50,590.07) scale(1,1.000)">5</text>
<text font-family="Liberation Serif" font-weight="bold" font-size="23.00" fill="#000" text-anchor="middle" transform="translate(677.00,590.07) scale(1,1.000)">5.2</text>
<text font-family="Liberation Serif" font-weight="bold" font-size="23.00" fill="#000" text-anchor="middle" transform="translate(744.50,590.07) scale(1,1.000)">5.4</text>
<text font-family="Liberation Serif" font-weight="bold" font-size="22.70" fill="#000" text-anchor="middle" transform="translate(605.20,610.00) scale(1,1.040)">Frequency (GHz)</text>
<text font-family="Liberation Serif" font-weight="bold" font-size="22.70" fill="#000" text-anchor="middle" transform="translate(416.50,449.25) rotate(-90) scale(1.017,1)">S-parameters (dB)</text>
<line x1="470.6" y1="476.0" x2="486.8" y2="476.0" stroke="#000000" stroke-width="2"/>
<text font-family="Liberation Serif" font-weight="bold" font-size="22.00" fill="#000" text-anchor="start" transform="translate(493.80,483.10) scale(1,1.050)">S<tspan font-size="16.0" dy="2.3" dx="0.8">2</tspan></text>
<line x1="470.6" y1="498.4" x2="486.8" y2="498.4" stroke="#12a812" stroke-width="2"/>
<text font-family="Liberation Serif" font-weight="bold" font-size="22.00" fill="#000" text-anchor="start" transform="translate(493.80,505.50) scale(1,1.050)">S<tspan font-size="16.0" dy="2.3" dx="0.8">4</tspan></text>
<line x1="470.6" y1="519.9" x2="486.8" y2="519.9" stroke="#0000ff" stroke-width="2"/>
<text font-family="Liberation Serif" font-weight="bold" font-size="22.00" fill="#000" text-anchor="start" transform="translate(493.80,527.00) scale(1,1.050)">S<tspan font-size="16.0" dy="2.3" dx="0.8">6</tspan></text>
<line x1="470.6" y1="542.2" x2="486.8" y2="542.2" stroke="#ff0000" stroke-width="2"/>
<text font-family="Liberation Serif" font-weight="bold" font-size="22.00" fill="#000" text-anchor="start" transform="translate(493.80,549.30) scale(1,1.050)">S<tspan font-size="16.0" dy="2.3" dx="0.8">8</tspan></text>
<text font-family="Liberation Serif" font-size="16.8" fill="#000" x="604.4" y="630.0" text-anchor="middle">(<tspan font-weight="bold">d</tspan>)</text>
</svg></body></html>
